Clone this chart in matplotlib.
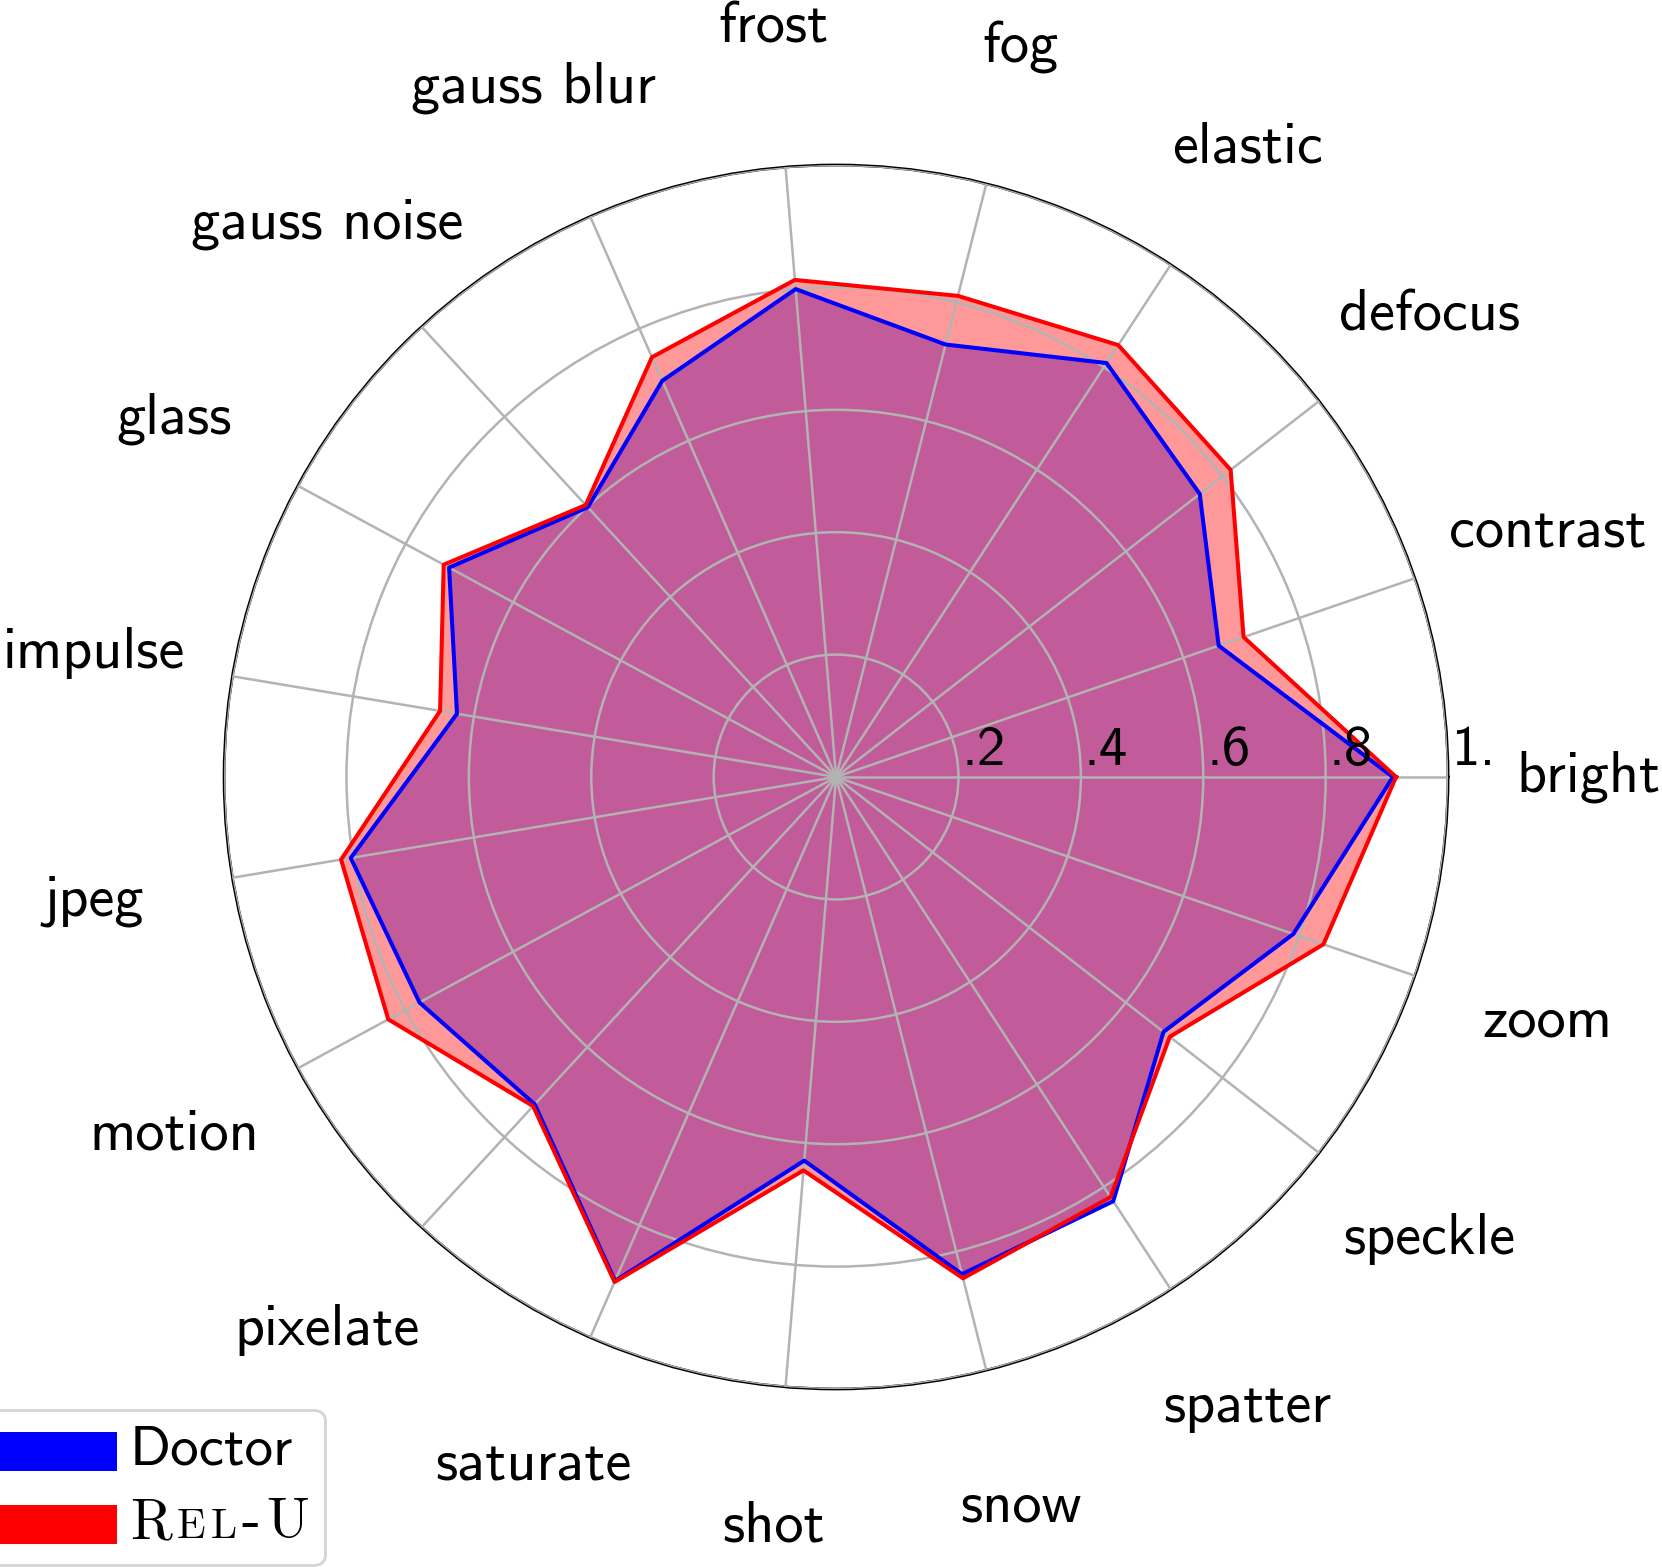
import numpy as np
import matplotlib.pyplot as plt
from matplotlib.patches import Rectangle
from matplotlib.offsetbox import (AnchoredOffsetbox, DrawingArea, HPacker,
                                  TextArea, VPacker)

# categories, counterclockwise starting at 3 o'clock
categories = ["bright", "contrast", "defocus", "elastic", "fog", "frost",
              "gauss blur", "gauss noise", "glass", "impulse", "jpeg",
              "motion", "pixelate", "saturate", "shot", "snow", "spatter",
              "speckle", "zoom"]

doctor = [0.910, 0.661, 0.753, 0.808, 0.729, 0.800, 0.707, 0.599, 0.719,
          0.628, 0.804, 0.774, 0.727, 0.899, 0.629, 0.838, 0.828, 0.678,
          0.790]
relu = [0.915, 0.704, 0.817, 0.843, 0.811, 0.815, 0.749, 0.604, 0.729,
        0.656, 0.820, 0.832, 0.731, 0.901, 0.645, 0.845, 0.820, 0.691,
        0.842]

rticks = [0.2, 0.4, 0.6, 0.8, 1.0]
rtick_labels = [".2", ".4", ".6", ".8", "1."]

SANS = "cmss10"
SERIF = "cmr10"
PT = 0.72  # points per pixel at dpi 100

fig = plt.figure(figsize=(16.62, 15.67), dpi=100)
ax = fig.add_axes([0.1348, 0.1136, 0.7365, 0.7811], projection="polar")

n = len(categories)
angles = np.linspace(0, 2 * np.pi, n, endpoint=False)
theta = np.append(angles, angles[0])
doc_c = np.append(doctor, doctor[0])
rel_c = np.append(relu, relu[0])

# fills first, lines on top
ax.fill(theta, doc_c, color="blue", alpha=0.4, lw=0, zorder=1)
ax.fill(theta, rel_c, color="red", alpha=0.4, lw=0, zorder=1.1)
ax.plot(theta, doc_c, color="blue", lw=2.9, zorder=3)
ax.plot(theta, rel_c, color="red", lw=2.9, zorder=3.1)

ax.set_ylim(0, 1)
ax.set_yticks(rticks)
ax.set_yticklabels([])
ax.set_xticks(angles)
ax.set_xticklabels([])
ax.set_axisbelow(False)
ax.grid(True, color="#b3b3b3", lw=1.8)
ax.tick_params(length=0)
ax.spines["polar"].set_color("black")
ax.spines["polar"].set_linewidth(2.0)

for a, lbl in zip(angles, categories):
    ax.text(a, 1.229, lbl, ha="center", va="center", fontsize=42,
            family=SANS, clip_on=False)

for r, lbl in zip(rticks, rtick_labels):
    ax.annotate(lbl, xy=(0, r), xytext=(3, 12), textcoords="offset pixels",
                ha="left", va="baseline", fontsize=41, family=SANS,
                zorder=5, annotation_clip=False)


# ---------- legend (built from offset boxes) ----------
def handle_box(color):
    w, h, below = 120 * PT, 39 * PT, 6 * PT
    da = DrawingArea(w, h - below, 0, below)
    da.add_artist(Rectangle((0, -below), w, h, facecolor=color,
                            edgecolor="none"))
    return da


big = dict(family=SERIF, size=41)
small = dict(family=SERIF, size=41 * 0.74)
doctor_txt = TextArea("Doctor", textprops=dict(family=SANS, size=41))
relu_txt = HPacker(children=[TextArea("R", textprops=big),
                             TextArea("E", textprops=small),
                             TextArea("L", textprops=small),
                             TextArea("-", textprops=big),
                             TextArea("U", textprops=big)],
                   align="baseline", pad=0, sep=5 * PT)

rows = [HPacker(children=[handle_box("blue"), doctor_txt],
                align="baseline", pad=0, sep=13 * PT),
        HPacker(children=[handle_box("red"), relu_txt],
                align="baseline", pad=0, sep=13 * PT)]
column = VPacker(children=rows, align="left", pad=0, sep=22 * PT)

legend_box = AnchoredOffsetbox(loc="lower left", child=column, pad=0.28,
                               borderpad=0, frameon=True,
                               prop=dict(size=41),
                               bbox_to_anchor=(-19 / 1662, 2 / 1567),
                               bbox_transform=fig.transFigure)
legend_box.patch.set_boxstyle("round,pad=0,rounding_size=0.2")
legend_box.patch.set_edgecolor("#d4d4d4")
legend_box.patch.set_facecolor("white")
legend_box.patch.set_linewidth(2)
legend_box.set_zorder(6)
fig.add_artist(legend_box)

fig.savefig("out.png", dpi=100)
